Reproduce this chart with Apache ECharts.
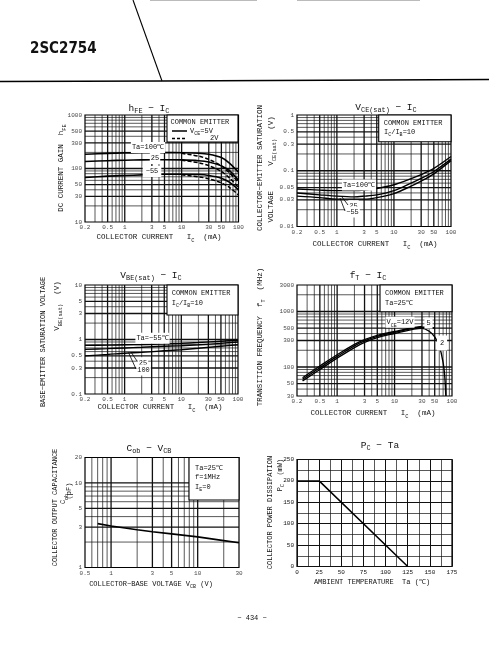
<!DOCTYPE html>
<html><head><meta charset="utf-8">
<script src="https://cdn.jsdelivr.net/npm/echarts@6/dist/echarts.min.js"></script>
<style>html,body{margin:0;padding:0;background:#fff}#c{width:489px;height:660px}</style>
</head><body><div id="c"></div>
<script>
// ---------------- data ----------------
// hFE - IC
const hfeIc = [0.2, 0.5, 1, 2, 5, 10, 20, 30, 50, 70, 100];
const hfe5V_100 = [185, 192, 196, 198, 198, 197, 193, 185, 160, 125, 85];
const hfe5V_25 = [135, 140, 143, 145, 146, 145, 140, 132, 112, 90, 60];
const hfe5V_m55 = [68, 72, 74, 76, 78, 78, 77, 74, 66, 55, 40];
const hfe2VIc = [10, 20, 30, 50, 70, 100];
const hfe2V_100 = [192, 170, 148, 112, 82, 55];
const hfe2V_25 = [142, 128, 113, 88, 66, 44];
const hfe2V_m55 = [76, 70, 64, 54, 44, 32];
// VCE(sat) - IC
const vceIc = [0.2, 0.5, 1, 2, 3, 5, 10, 20, 30, 50, 100];
const vce_100 = [0.047, 0.045, 0.044, 0.044, 0.045, 0.048, 0.056, 0.072, 0.085, 0.11, 0.18];
const vce_25 = [0.040, 0.037, 0.035, 0.034, 0.035, 0.037, 0.044, 0.060, 0.073, 0.097, 0.162];
const vce_m55 = [0.035, 0.033, 0.031, 0.031, 0.031, 0.033, 0.039, 0.053, 0.065, 0.088, 0.152];
// VBE(sat) - IC
const vbeIc = [0.2, 0.5, 1, 2, 5, 10, 20, 50, 100];
const vbe_m55 = [0.78, 0.79, 0.80, 0.81, 0.83, 0.85, 0.88, 0.93, 0.97];
const vbe_25 = [0.66, 0.68, 0.70, 0.72, 0.75, 0.77, 0.80, 0.85, 0.90];
const vbe_100 = [0.50, 0.53, 0.56, 0.58, 0.62, 0.65, 0.69, 0.75, 0.80];
// fT - IC
const ftIc12 = [0.25, 0.5, 1, 2, 3, 5, 10, 20, 30];
const ft12V = [64, 104, 166, 256, 312, 372, 435, 505, 535];
const ftIc5 = [0.25, 0.5, 1, 2, 3, 5, 10, 20, 30, 40, 50];
const ft5V = [60, 97, 155, 240, 295, 355, 420, 490, 520, 520, 500];
const ftIc2 = [0.25, 0.5, 1, 2, 3, 5, 10, 20, 30, 40, 50, 60, 70, 75, 78];
const ft2V = [56, 90, 144, 224, 278, 338, 402, 472, 500, 440, 350, 240, 120, 65, 30];
// Cob - VCB
const vcb = [0.7, 1, 2, 3, 5, 10, 20, 30];
const cob = [3.3, 3.1, 2.8, 2.65, 2.5, 2.3, 2.08, 1.96];
// PC - Ta
const ta = [0, 25, 125];
const pc = [200, 200, 0];
// tick labels
const icTicks = [0.2, 0.5, 1, 3, 5, 10, 30, 50, 100];
const hfeTicks = [10, 30, 50, 100, 300, 500, 1000];
const vceTicks = [0.01, 0.03, 0.05, 0.1, 0.3, 0.5, 1];
const vbeTicks = [0.1, 0.3, 0.5, 1, 3, 5, 10];
const ftTicks = [30, 50, 100, 300, 500, 1000, 3000];
const vcbTicks = [0.5, 1, 3, 5, 10, 30];
const cobTicks = [1, 3, 5, 10, 20];

// ---------------- layout / style ----------------
const FONT = "'Liberation Mono','DejaVu Sans Mono',monospace";
const INK = '#111';
const G = [
  {left: 85, top: 115, width: 153.5, height: 107},
  {left: 297, top: 115, width: 154, height: 111.5},
  {left: 85, top: 285, width: 153, height: 109},
  {left: 297, top: 285, width: 155, height: 111},
  {left: 85, top: 457.5, width: 154, height: 110},
  {left: 297, top: 459.5, width: 155, height: 107}
];
const XR = [[0.2, 100], [0.2, 100], [0.2, 100], [0.2, 100], [0.5, 30], [0, 175]];
const YR = [[10, 1000], [0.01, 1], [0.1, 10], [30, 3000], [1, 20], [0, 250]];

function fmt(v) { return String(+(+v).toPrecision(3)); }
function minors(lo, hi) {
  const out = [];
  for (let e = -3; e < 5; e++) for (let m = 1; m < 10; m++) {
    const v = +(m * Math.pow(10, e)).toPrecision(3);
    if (v > lo * 1.0001 && v < hi * 0.9999) out.push(v);
  }
  return out;
}
function rule(gi, pts, w) {
  return {type: 'line', xAxisIndex: gi, yAxisIndex: gi, data: pts, symbol: 'none', showSymbol: false,
    silent: true, animation: false, z: 1, clip: false, lineStyle: {color: INK, width: w}};
}
function gridSeries(gi, xs, ys, xMaj, yMaj) {
  const out = [];
  const x0 = XR[gi][0], x1 = XR[gi][1], y0 = YR[gi][0], y1 = YR[gi][1];
  xs.forEach(v => out.push(rule(gi, [[v, y0], [v, y1]], xMaj.includes(v) ? 1.3 : 0.7)));
  ys.forEach(v => out.push(rule(gi, [[x0, v], [x1, v]], yMaj.includes(v) ? 1.3 : 0.7)));
  return out;
}
function tickSeries(gi, axis, vals) {
  return {type: 'scatter', xAxisIndex: gi, yAxisIndex: gi, silent: true, animation: false, clip: false, z: 6,
    symbolSize: 1, itemStyle: {color: 'rgba(0,0,0,0)'},
    data: vals.map(v => axis === 'x' ? [v, YR[gi][0]] : [XR[gi][0], v]),
    label: {show: true, position: axis === 'x' ? 'bottom' : 'left', distance: axis === 'x' ? 2 : 2.5,
      fontFamily: FONT, fontSize: 6, color: INK,
      formatter: p => fmt(axis === 'x' ? p.value[0] : p.value[1])}};
}
function curve(gi, xs, ys, extra) {
  return Object.assign({type: 'line', xAxisIndex: gi, yAxisIndex: gi, data: xs.map((x, i) => [x, ys[i]]),
    symbol: 'none', showSymbol: false, smooth: 0.3, silent: true, animation: false, z: 5,
    lineStyle: {color: '#000', width: 1.4}}, extra || {});
}

const xAxes = [], yAxes = [];
for (let i = 0; i < 6; i++) {
  const lin = i === 5;
  xAxes.push({gridIndex: i, type: lin ? 'value' : 'log', logBase: 10, min: XR[i][0], max: XR[i][1],
    interval: lin ? 25 : undefined,
    axisLine: {show: false}, axisTick: {show: false},
    axisLabel: {show: lin, fontFamily: FONT, fontSize: 6, color: INK, margin: 3},
    splitLine: {show: lin, lineStyle: {color: INK, width: 1}},
    minorTick: {show: false, splitNumber: 2},
    minorSplitLine: {show: lin, lineStyle: {color: INK, width: 0.7}}});
  yAxes.push({gridIndex: i, type: lin ? 'value' : 'log', logBase: 10, min: YR[i][0], max: YR[i][1],
    interval: lin ? 50 : undefined,
    axisLine: {show: false}, axisTick: {show: false},
    axisLabel: {show: lin, fontFamily: FONT, fontSize: 6, color: INK, margin: 3},
    splitLine: {show: lin, lineStyle: {color: INK, width: 1}},
    minorTick: {show: false, splitNumber: 2},
    minorSplitLine: {show: lin, lineStyle: {color: INK, width: 0.7}}});
}
const grids = G.map(g => Object.assign({show: true, borderColor: '#000', borderWidth: 1.2, backgroundColor: 'transparent'}, g));

const icMaj = [1, 10, 0.5, 3, 5, 30, 50];
const series = [].concat(
  gridSeries(0, minors(0.2, 100), minors(10, 1000), icMaj, [100, 30, 50, 300, 500]),
  gridSeries(1, minors(0.2, 100), minors(0.01, 1), icMaj, [0.1, 0.03, 0.05, 0.3, 0.5]),
  gridSeries(2, minors(0.2, 100), minors(0.1, 10), icMaj, [1, 0.3, 0.5, 3, 5]),
  gridSeries(3, minors(0.2, 100), minors(30, 3000), icMaj, [100, 1000, 50, 300, 500]),
  gridSeries(4, minors(0.5, 30), minors(1, 11), [1, 10, 3, 5], [10, 3, 5]),
  [
  tickSeries(0, 'x', icTicks), tickSeries(0, 'y', hfeTicks),
  tickSeries(1, 'x', icTicks), tickSeries(1, 'y', vceTicks),
  tickSeries(2, 'x', icTicks), tickSeries(2, 'y', vbeTicks),
  tickSeries(3, 'x', icTicks), tickSeries(3, 'y', ftTicks),
  tickSeries(4, 'x', vcbTicks), tickSeries(4, 'y', cobTicks),
  curve(0, hfeIc, hfe5V_100, {lineStyle: {color: '#000', width: 1.6}}),
  curve(0, hfeIc, hfe5V_25, {lineStyle: {color: '#000', width: 1.6}}),
  curve(0, hfeIc, hfe5V_m55, {lineStyle: {color: '#000', width: 1.6}}),
  curve(0, hfe2VIc, hfe2V_100, {lineStyle: {color: '#000', width: 1.5, type: [4, 2]}}),
  curve(0, hfe2VIc, hfe2V_25, {lineStyle: {color: '#000', width: 1.5, type: [4, 2]}}),
  curve(0, hfe2VIc, hfe2V_m55, {lineStyle: {color: '#000', width: 1.5, type: [4, 2]}}),
  curve(1, vceIc, vce_100), curve(1, vceIc, vce_25), curve(1, vceIc, vce_m55),
  curve(2, vbeIc, vbe_m55), curve(2, vbeIc, vbe_25), curve(2, vbeIc, vbe_100),
  curve(3, ftIc12, ft12V, {smooth: 0.4}), curve(3, ftIc5, ft5V, {smooth: 0.4}), curve(3, ftIc2, ft2V, {smooth: 0.4}),
  curve(4, vcb, cob, {smooth: false, lineStyle: {color: '#000', width: 1.6}}),
  curve(5, ta, pc, {smooth: false, lineStyle: {color: '#000', width: 1.5}})
  ]
);

// ---------------- text / decorations ----------------
function richFor(f) {
  return {s: {fontSize: f * 0.72, fontFamily: FONT, fill: INK, lineHeight: f * 0.75, verticalAlign: 'bottom'}};
}
function txt(x, y, text, o) {
  o = o || {};
  const f = o.size || 7.5;
  const st = {text: text, x: 0, y: 0, align: o.align || 'center', verticalAlign: 'middle',
    fontFamily: o.family || FONT, fontSize: f, fontWeight: o.weight || 'normal', fill: INK,
    lineHeight: f + 4, rich: richFor(f)};
  if (o.bg) { st.backgroundColor = o.bg; st.padding = o.pad || [0, 1]; }
  return {type: 'text', x: x, y: y, rotation: o.rot || 0, z: 100, silent: true, style: st};
}
const R = Math.PI / 2;
function box(x, y, w, h) {
  return {type: 'rect', z: 60, silent: true, shape: {x: x, y: y, width: w, height: h},
    style: {fill: '#fff', stroke: '#000', lineWidth: 1.1}};
}
function seg(x1, y1, x2, y2, w, dash) {
  return {type: 'line', z: 100, silent: true, shape: {x1: x1, y1: y1, x2: x2, y2: y2},
    style: {stroke: '#000', lineWidth: w || 0.8, lineDash: dash || null}};
}
const XN = 'COLLECTOR CURRENT   I{s|C}  (mA)';
const graphic = [
  // header
  seg(133, 0, 162, 81, 1.1),
  {type: 'polyline', z: 100, silent: true, shape: {points: [[0, 81.5], [162, 81], [489, 79.5]]}, style: {stroke: '#000', lineWidth: 1.3, fill: null}},
  {type: 'line', z: 100, silent: true, shape: {x1: 150, y1: 0.5, x2: 257, y2: 0.5}, style: {stroke: '#bbb', lineWidth: 1.2}},
  {type: 'line', z: 100, silent: true, shape: {x1: 297, y1: 0.5, x2: 420, y2: 0.5}, style: {stroke: '#bbb', lineWidth: 1.2}},
  txt(30, 49, '2SC2754', {align: 'left', size: 15, weight: 'bold', family: "'Liberation Sans Narrow','DejaVu Sans Condensed','Liberation Sans',sans-serif"}),
  // chart 1
  txt(149, 108, 'h{s|FE} − I{s|C}', {size: 9.5}),
  txt(159, 237, XN),
  txt(61, 168, 'DC CURRENT GAIN  h{s|FE}', {rot: R}),
  box(167, 115, 71, 27),
  txt(170.5, 121.7, 'COMMON EMITTER', {align: 'left', size: 7}),
  seg(172, 131, 187, 131, 1.5),
  txt(190, 130.7, 'V{s|CE}=5V', {align: 'left', size: 7}),
  seg(172, 138.5, 187, 138.5, 1.4, [3, 2]),
  txt(210, 138, '2V', {align: 'left', size: 7}),
  txt(148, 147.5, 'Ta=100℃', {size: 7, bg: '#fff'}),
  txt(155, 158.5, '25', {size: 7, bg: '#fff'}),
  txt(152, 171.5, '−55', {size: 7, bg: '#fff', pad: [0, 3]}),
  // chart 2
  txt(386, 107, 'V{s|CE(sat)} − I{s|C}', {size: 9.5}),
  txt(375, 244, XN),
  txt(260.5, 168, 'COLLECTOR−EMITTER SATURATION', {rot: R}),
  txt(271.5, 141, 'V{s|CE(sat)}  (V)', {rot: R}),
  txt(271.5, 206.7, 'VOLTAGE', {rot: R}),
  box(378.7, 115, 72.3, 26.7),
  txt(383.7, 123.3, 'COMMON EMITTER', {align: 'left', size: 7}),
  txt(384, 131.7, 'I{s|C}/I{s|B}=10', {align: 'left', size: 7}),
  txt(359, 185, 'Ta=100℃', {size: 7, bg: '#fff'}),
  txt(353.5, 205.7, '25', {size: 7, bg: '#fff'}),
  txt(352.5, 212, '−55', {size: 7, bg: '#fff'}),
  seg(342, 197, 348, 205, 0.8), seg(340, 198, 345, 211, 0.8),
  // chart 3
  txt(151, 275, 'V{s|BE(sat)} − I{s|C}', {size: 9.5}),
  txt(160, 407, XN),
  txt(43, 342, 'BASE−EMITTER SATURATION VOLTAGE', {rot: R, size: 7}),
  txt(57, 306, 'V{s|BE(sat)}  (V)', {rot: R}),
  box(167, 285, 71, 30),
  txt(171.7, 293.3, 'COMMON EMITTER', {align: 'left', size: 7}),
  txt(171.7, 302.7, 'I{s|C}/I{s|B}=10', {align: 'left', size: 7}),
  txt(152.5, 338.3, 'Ta=−55℃', {size: 7, bg: '#fff'}),
  txt(143, 362.7, '25', {size: 7, bg: '#fff'}),
  txt(143.5, 370, '100', {size: 7, bg: '#fff'}),
  seg(131, 352, 137, 361, 0.8), seg(128.5, 352.5, 136, 369, 0.8),
  // chart 4
  txt(368, 275, 'f{s|T} − I{s|C}', {size: 9.5}),
  txt(373, 413, XN),
  txt(260, 337, 'TRANSITION FREQUENCY  f{s|T}  (MHz)', {rot: R}),
  box(380, 285, 72, 26.7),
  txt(385, 293.3, 'COMMON EMITTER', {align: 'left', size: 7}),
  txt(385, 302.7, 'Ta=25℃', {align: 'left', size: 7}),
  txt(400, 322.2, 'V{s|CE}=12V', {size: 7, bg: '#fff'}),
  txt(428.5, 323, '5', {size: 7, bg: '#fff', pad: [0, 2]}),
  txt(442, 343, '2', {size: 7, bg: '#fff', pad: [2, 3]}),
  // chart 5
  txt(149, 448, 'C{s|ob} − V{s|CB}', {size: 9.5}),
  txt(151, 584, 'COLLECTOR−BASE VOLTAGE V{s|CB} (V)', {size: 7}),
  txt(55, 507.5, 'COLLECTOR OUTPUT CAPACITANCE', {rot: R, size: 7}),
  txt(63.5, 499, 'C{s|ob}', {rot: R, size: 7}),
  txt(69.5, 491, '(pF)', {rot: R, size: 7}),
  box(189, 457.5, 50, 42.5),
  txt(195, 467.7, 'Ta=25℃', {align: 'left', size: 7}),
  txt(195, 476.7, 'f=1MHz', {align: 'left', size: 7}),
  txt(195, 486.7, 'I{s|E}=0', {align: 'left', size: 7}),
  // chart 6
  txt(380, 445, 'P{s|C} − Ta', {size: 9.5}),
  txt(372, 582, 'AMBIENT TEMPERATURE  Ta (℃)', {size: 7}),
  txt(270, 512.5, 'COLLECTOR POWER DISSIPATION', {rot: R, size: 7}),
  txt(280, 475, 'P{s|C}  (mW)', {rot: R, size: 7}),
  // page number
  txt(252, 618, '− 434 −', {size: 7})
];

const chart = echarts.init(document.getElementById('c'), null, {renderer: 'canvas', width: 489, height: 660});
chart.setOption({
  backgroundColor: '#fff',
  animation: false,
  grid: grids,
  xAxis: xAxes,
  yAxis: yAxes,
  series: series,
  graphic: {elements: graphic}
});
</script></body></html>
